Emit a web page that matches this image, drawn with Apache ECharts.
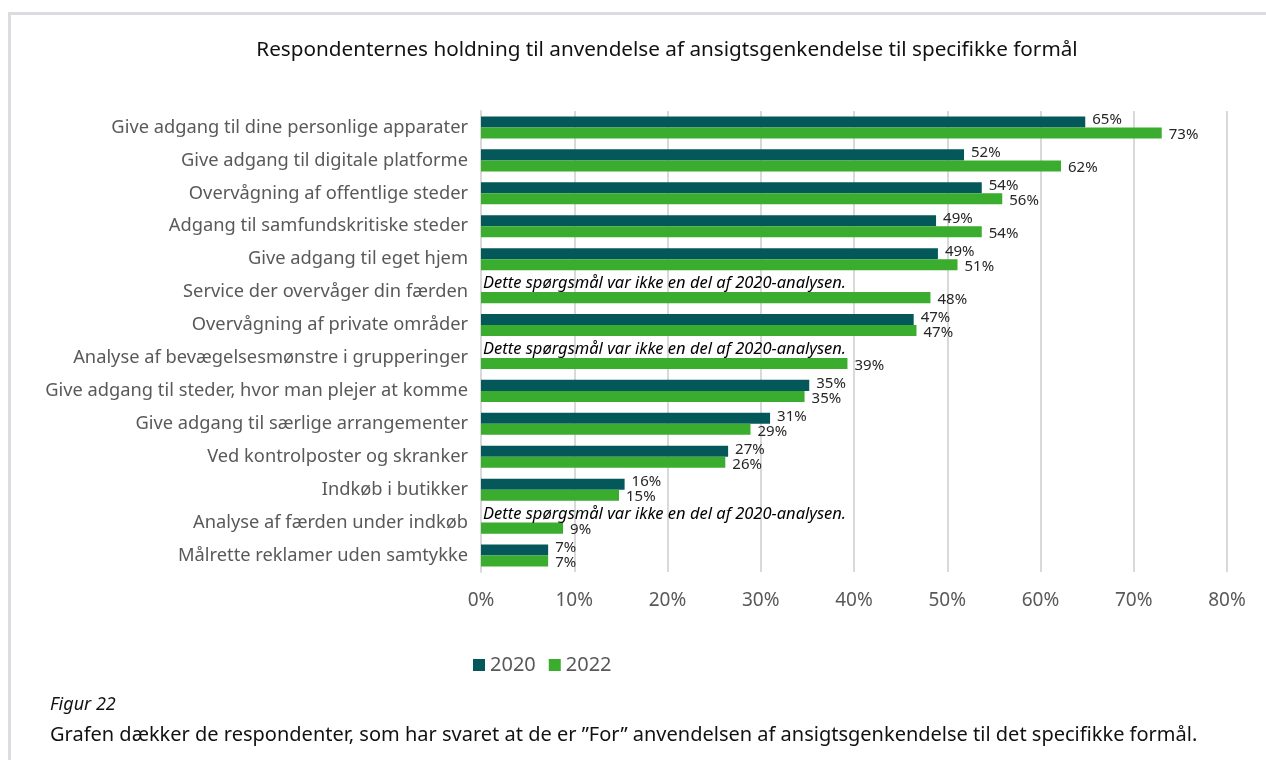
<!doctype html>
<html>
<head>
    <meta charset="UTF-8">
    <title>Ansigtsgenkendelse - holdning</title>
    <script src="https://cdn.jsdelivr.net/npm/echarts@6/dist/echarts.min.js"></script>
    <style>
        html, body { margin: 0; padding: 0; background: #fff; }
        #frame { position: absolute; left: 8px; top: 12px; width: 1258px; height: 748px;
                 border-top: 3px solid #dcdce0; border-left: 3px solid #dcdce0; }
        #main { position: absolute; left: 0; top: 0; width: 1266px; height: 760px; }
    </style>
</head>
<body>
<div id="frame"></div>
<div id="main"></div>
<script type="text/javascript">
    // kategorier (øverst først)
    var categories = [
        'Give adgang til dine personlige apparater',
        'Give adgang til digitale platforme',
        'Overvågning af offentlige steder',
        'Adgang til samfundskritiske steder',
        'Give adgang til eget hjem',
        'Service der overvåger din færden',
        'Overvågning af private områder',
        'Analyse af bevægelsesmønstre i grupperinger',
        'Give adgang til steder, hvor man plejer at komme',
        'Give adgang til særlige arrangementer',
        'Ved kontrolposter og skranker',
        'Indkøb i butikker',
        'Analyse af færden under indkøb',
        'Målrette reklamer uden samtykke'
    ];
    // null = ikke med i 2020-analysen
    var values2020 = [64.8, 51.8, 53.7, 48.8, 49.0, null, 46.4, null, 35.2, 31.0, 26.5, 15.4, null, 7.2];
    var values2022 = [73.0, 62.2, 55.9, 53.7, 51.1, 48.2, 46.7, 39.3, 34.7, 28.9, 26.2, 14.8, 8.8, 7.2];
    var labels2020 = ['65%', '52%', '54%', '49%', '49%', '', '47%', '', '35%', '31%', '27%', '16%', '', '7%'];
    var labels2022 = ['73%', '62%', '56%', '54%', '51%', '48%', '47%', '39%', '35%', '29%', '26%', '15%', '9%', '7%'];
    var xTicks = [0, 10, 20, 30, 40, 50, 60, 70, 80];
    var note = 'Dette spørgsmål var ikke en del af 2020-analysen.';

    var FONT = 'Noto Sans';
    var myChart = echarts.init(document.getElementById('main'));

    var data2020 = values2020.map(function (v, i) {
        if (v === null) {
            return {
                value: 0,
                label: {
                    formatter: note,
                    fontStyle: 'italic',
                    fontSize: 16.5,
                    color: '#000',
                    distance: 2,
                    offset: [0, -3]
                }
            };
        }
        return {value: v, label: {formatter: labels2020[i]}};
    });
    var data2022 = values2022.map(function (v, i) {
        return {value: v, label: {formatter: labels2022[i]}};
    });

    var option = {
        animation: false,
        textStyle: {fontFamily: FONT},
        title: [{
            text: 'Respondenternes holdning til anvendelse af ansigtsgenkendelse til specifikke formål',
            left: 662,
            top: 35,
            textAlign: 'center',
            textStyle: {fontFamily: FONT, fontSize: 20.7, fontWeight: 'normal', color: '#111'}
        }, {
            text: 'Figur 22',
            left: 45,
            top: 691,
            textStyle: {fontFamily: FONT, fontSize: 18, fontWeight: 'normal', fontStyle: 'italic', color: '#111'}
        }, {
            text: 'Grafen dækker de respondenter, som har svaret at de er ”For” anvendelsen af ansigtsgenkendelse til det specifikke formål.',
            left: 45,
            top: 720,
            textStyle: {fontFamily: FONT, fontSize: 20, fontWeight: 'normal', color: '#111'}
        }],
        legend: {
            data: ['2020', '2022'],
            left: 468,
            top: 650,
            itemWidth: 12,
            itemHeight: 12,
            itemGap: 13,
            icon: 'rect',
            textStyle: {fontFamily: FONT, fontSize: 20, color: '#595959'}
        },
        grid: {left: 481, right: 39, top: 111, bottom: 188, containLabel: false},
        xAxis: {
            type: 'value',
            min: 0,
            max: 80,
            interval: 10,
            axisLine: {show: false},
            axisTick: {show: false},
            splitLine: {lineStyle: {color: '#d9d9d9', width: 2}},
            axisLabel: {
                margin: 19,
                fontFamily: FONT,
                fontSize: 19,
                color: '#595959',
                formatter: function (v) {
                    return xTicks.indexOf(v) >= 0 ? v + '%' : '';
                }
            }
        },
        yAxis: {
            type: 'category',
            inverse: true,
            data: categories,
            axisLine: {lineStyle: {color: '#d9d9d9', width: 2}},
            axisTick: {length: 5, lineStyle: {color: '#d9d9d9', width: 2}},
            axisLabel: {margin: 13, fontFamily: FONT, fontSize: 18.3, color: '#595959'}
        },
        series: [{
            name: '2020',
            type: 'bar',
            data: data2020,
            barGap: '0%',
            barCategoryGap: '33%',
            itemStyle: {color: '#04585a'},
            label: {
                show: true,
                position: 'right',
                distance: 7,
                offset: [0, -2],
                fontFamily: FONT,
                fontSize: 15,
                color: '#262626'
            }
        }, {
            name: '2022',
            type: 'bar',
            data: data2022,
            barGap: '0%',
            barCategoryGap: '33%',
            itemStyle: {color: '#3aad2e'},
            label: {
                show: true,
                position: 'right',
                distance: 7,
                offset: [0, 2],
                fontFamily: FONT,
                fontSize: 15,
                color: '#262626'
            }
        }]
    };
    myChart.setOption(option);
</script>
</body>
</html>
